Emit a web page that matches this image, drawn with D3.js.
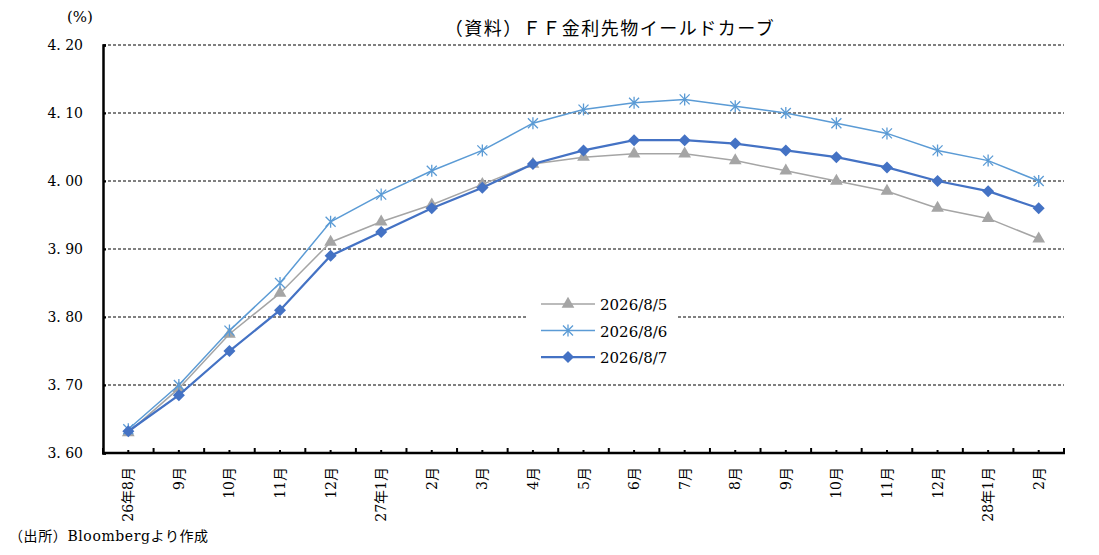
<!DOCTYPE html>
<html>
<head>
<meta charset="utf-8">
<script src="https://cdn.jsdelivr.net/npm/d3@7"></script>
<style>
  body { margin: 0; background: #fff; }
  svg text { font-family: "DejaVu Serif", "Noto Sans CJK JP", serif; fill: #000; }
</style>
</head>
<body>
<svg id="chart" width="1099" height="555"></svg>
<script>
// months on the x axis
let months = ["26年8月", "9月", "10月", "11月", "12月", "27年1月", "2月", "3月", "4月", "5月",
              "6月", "7月", "8月", "9月", "10月", "11月", "12月", "28年1月", "2月"];

let s0805 = [3.630, 3.695, 3.775, 3.835, 3.910, 3.940, 3.965, 3.995, 4.025, 4.035,
             4.040, 4.040, 4.030, 4.015, 4.000, 3.985, 3.960, 3.945, 3.915];
let s0806 = [3.635, 3.700, 3.780, 3.850, 3.940, 3.980, 4.015, 4.045, 4.085, 4.105,
             4.115, 4.120, 4.110, 4.100, 4.085, 4.070, 4.045, 4.030, 4.000];
let s0807 = [3.632, 3.685, 3.750, 3.810, 3.890, 3.925, 3.960, 3.990, 4.025, 4.045,
             4.060, 4.060, 4.055, 4.045, 4.035, 4.020, 4.000, 3.985, 3.960];

let yTicks = [3.60, 3.70, 3.80, 3.90, 4.00, 4.10, 4.20];

let series = [
    { name: "2026/8/5", values: s0805, color: "#A5A5A5", width: 1.5, mark: "triangle" },
    { name: "2026/8/6", values: s0806, color: "#5B9BD5", width: 1.5, mark: "star" },
    { name: "2026/8/7", values: s0807, color: "#4472C4", width: 2.25, mark: "diamond" }
];

let svg = d3.select("#chart"),
    pLeft = 103, pRight = 1064, pTop = 45, pBottom = 453;

let x = d3.scaleBand().domain(d3.range(months.length)).range([pLeft, pRight]);
let y = d3.scaleLinear().domain([3.6, 4.2]).range([pBottom, pTop]);
let cx = function(d, i) { return x(i) + x.bandwidth() / 2; };

// title and units
svg.append("text")
    .attr("x", 610).attr("y", 35)
    .attr("text-anchor", "middle")
    .attr("font-size", "18px")
    .attr("letter-spacing", "1.5px")
    .text("（資料）ＦＦ金利先物イールドカーブ");

svg.append("text")
    .attr("x", 80).attr("y", 22)
    .attr("text-anchor", "middle")
    .attr("font-size", "15px")
    .text("(%)");

// dashed gridlines
svg.append("g")
    .selectAll("line")
    .data(yTicks.filter(function(d) { return d > 3.6; }))
    .enter().append("line")
    .attr("x1", pLeft).attr("x2", pRight)
    .attr("y1", function(d) { return y(d); })
    .attr("y2", function(d) { return y(d); })
    .attr("stroke", "#000")
    .attr("stroke-width", 1)
    .attr("stroke-dasharray", "3,2");

// y axis
let yAxis = svg.append("g")
    .attr("transform", "translate(" + pLeft + ",0)")
    .call(d3.axisRight(y).tickValues(yTicks).tickSize(3).tickFormat(""));
yAxis.select(".domain").attr("stroke-width", 2.5);
yAxis.selectAll(".tick line").attr("stroke-width", 2);

svg.append("g")
    .selectAll("text")
    .data(yTicks)
    .enter().append("text")
    .attr("x", 83)
    .attr("y", function(d) { return y(d) + 5; })
    .attr("text-anchor", "end")
    .attr("font-size", "14px")
    .text(function(d) { return d.toFixed(2).replace(".", ". "); });

// x axis line and inner ticks
svg.append("line")
    .attr("x1", pLeft - 1).attr("x2", pRight + 1)
    .attr("y1", pBottom).attr("y2", pBottom)
    .attr("stroke", "#000").attr("stroke-width", 2.5);

let bounds = d3.range(months.length + 1).map(function(i) { return pLeft + i * x.bandwidth(); });
svg.append("g")
    .selectAll("line")
    .data(bounds)
    .enter().append("line")
    .attr("x1", function(d) { return d; }).attr("x2", function(d) { return d; })
    .attr("y1", pBottom).attr("y2", pBottom - 5)
    .attr("stroke", "#000").attr("stroke-width", 2);

svg.append("g")
    .selectAll("line")
    .data(months)
    .enter().append("line")
    .attr("x1", cx).attr("x2", cx)
    .attr("y1", pBottom).attr("y2", pBottom - 3)
    .attr("stroke", "#000").attr("stroke-width", 2);

// rotated month labels
svg.append("g")
    .selectAll("text")
    .data(months)
    .enter().append("text")
    .attr("transform", function(d, i) { return "translate(" + (cx(d, i) + 5) + "," + 467 + ") rotate(-90)"; })
    .attr("text-anchor", "end")
    .attr("font-size", "14px")
    .text(function(d) { return d; });

// source note
svg.append("text")
    .attr("x", 9).attr("y", 541)
    .attr("font-size", "14px")
    .attr("letter-spacing", "0.6px")
    .text("（出所）Bloombergより作成");

// markers
function drawMark(g, type, color) {
    if (type === "triangle") {
        g.append("path")
            .attr("d", d3.symbol().type(d3.symbolTriangle).size(70)())
            .attr("fill", color);
    } else if (type === "diamond") {
        g.append("path")
            .attr("d", "M0,-6L6,0L0,6L-6,0Z")
            .attr("fill", color);
    } else {
        g.append("path")
            .attr("d", "M-5,-5L5,5M-5,5L5,-5M0,-6L0,6")
            .attr("stroke", color)
            .attr("stroke-width", 1.3)
            .attr("fill", "none");
    }
}

let line = d3.line()
    .x(function(d, i) { return cx(d, i); })
    .y(function(d) { return y(d); });

series.forEach(function(s) {
    let g = svg.append("g");
    g.append("path")
        .datum(s.values)
        .attr("d", line)
        .attr("fill", "none")
        .attr("stroke", s.color)
        .attr("stroke-width", s.width);

    g.selectAll(".mk")
        .data(s.values)
        .enter().append("g")
        .attr("class", "mk")
        .attr("transform", function(d, i) { return "translate(" + cx(d, i) + "," + y(d) + ")"; })
        .each(function() { drawMark(d3.select(this), s.mark, s.color); });
});

// legend
let legend = svg.append("g");
legend.append("rect")
    .attr("x", 528).attr("y", 290)
    .attr("width", 150).attr("height", 80)
    .attr("fill", "#fff");

series.forEach(function(s, i) {
    let ly = 304 + i * 26.5;
    legend.append("line")
        .attr("x1", 541).attr("x2", 595)
        .attr("y1", ly).attr("y2", ly)
        .attr("stroke", s.color)
        .attr("stroke-width", s.width);
    let m = legend.append("g").attr("transform", "translate(568," + ly + ")");
    drawMark(m, s.mark, s.color);
    legend.append("text")
        .attr("x", 600).attr("y", ly + 6)
        .attr("font-size", "15px")
        .text(s.name);
});
</script>
</body>
</html>
